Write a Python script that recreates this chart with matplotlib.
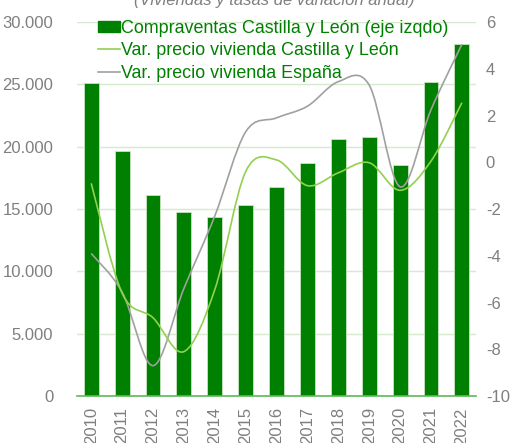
import matplotlib
matplotlib.use("Agg")
import matplotlib.pyplot as plt
from matplotlib.path import Path
from matplotlib.patches import PathPatch, Patch
from matplotlib.lines import Line2D
from matplotlib.ticker import FuncFormatter

plt.rcParams['font.family'] = ['Liberation Sans', 'DejaVu Sans']
plt.rcParams['axes.unicode_minus'] = False

years = ['2010', '2011', '2012', '2013', '2014', '2015', '2016',
         '2017', '2018', '2019', '2020', '2021', '2022']
compraventas = [25100, 19650, 16100, 14780, 14380, 15320, 16790,
                18660, 20600, 20800, 18520, 25150, 28200]
var_cyl = [-0.9, -5.6, -6.65, -8.1, -5.45, -0.4, 0.1,
           -1.0, -0.45, -0.02, -1.2, 0.05, 2.55]
var_esp = [-3.9, -5.55, -8.7, -5.4, -2.3, 1.3, 1.9,
           2.4, 3.45, 3.3, -1.05, 2.25, 5.05]

GRAY = '#7f7f7f'
GREEN = '#008000'


def smooth_path(xs, ys):
    # excel style smoothed line: catmull-rom as cubic bezier segments
    pts = list(zip(xs, ys))
    verts = [pts[0]]
    codes = [Path.MOVETO]
    n = len(pts)
    for i in range(n - 1):
        p0 = pts[i - 1] if i > 0 else pts[i]
        p1 = pts[i]
        p2 = pts[i + 1]
        p3 = pts[i + 2] if i + 2 < n else pts[i + 1]
        c1 = (p1[0] + (p2[0] - p0[0]) / 6.0, p1[1] + (p2[1] - p0[1]) / 6.0)
        c2 = (p2[0] - (p3[0] - p1[0]) / 6.0, p2[1] - (p3[1] - p1[1]) / 6.0)
        verts += [c1, c2, p2]
        codes += [Path.CURVE4] * 3
    return Path(verts, codes)


fig = plt.figure(figsize=(5.15, 4.43), dpi=100)
ax = fig.add_axes([0.1495, 0.106, 0.775, 0.8443])
x = list(range(len(years)))

ax.bar(x, compraventas, width=0.48, color=GREEN, edgecolor='#c9e3c0',
       linewidth=0.6, zorder=2)
ax.set_ylim(0, 30000)
ax.set_xlim(-0.46, 12.46)
ax.set_yticks(range(0, 30001, 5000))
ax.yaxis.set_major_formatter(FuncFormatter(lambda v, p: f'{int(v):,}'.replace(',', '.')))
ax.grid(axis='y', color='#d6ead0', linewidth=1, zorder=0)
ax.set_axisbelow(True)
ax.set_xticks(x)
ax.set_xticklabels(years, rotation=90)
for s in ['top', 'left', 'right']:
    ax.spines[s].set_visible(False)
ax.spines['bottom'].set_color('#5cb85c')
ax.spines['bottom'].set_linewidth(1.2)
ax.tick_params(axis='both', length=0, labelsize=12, colors=GRAY)
ax.tick_params(axis='y', pad=17)
ax.tick_params(axis='x', pad=8)

ax2 = ax.twinx()
ax2.set_ylim(-10, 6)
ax2.set_yticks(range(-10, 7, 2))
for s in ['top', 'left', 'right', 'bottom']:
    ax2.spines[s].set_visible(False)
ax2.tick_params(axis='y', length=0, labelsize=12, colors=GRAY, pad=7)

ax2.add_patch(PathPatch(smooth_path(x, var_esp), fill=False,
                        edgecolor='#a0a0a0', linewidth=1.2, zorder=3))
ax2.add_patch(PathPatch(smooth_path(x, var_cyl), fill=False,
                        edgecolor='#92d050', linewidth=1.2, zorder=4))

handles = [Patch(facecolor=GREEN, edgecolor=GREEN),
           Line2D([], [], color='#92d050', lw=1.2),
           Line2D([], [], color='#a0a0a0', lw=1.2)]
labels = ['Compraventas Castilla y León (eje izqdo)',
          'Var. precio vivienda Castilla y León',
          'Var. precio vivienda España']
leg = ax2.legend(handles, labels, loc='upper left', bbox_to_anchor=(0.035, 1.025),
                 frameon=False, fontsize=12.9, handlelength=1.2, handleheight=0.6,
                 handletextpad=0.05, labelspacing=0.3, borderaxespad=0)
for t in leg.get_texts():
    t.set_color(GREEN)

fig.text(0.532, 1.0, '(Viviendas y tasas de variación anual)', ha='center',
         va='center', fontsize=12, style='italic', color=GRAY)

fig.savefig('out.png', dpi=100)
